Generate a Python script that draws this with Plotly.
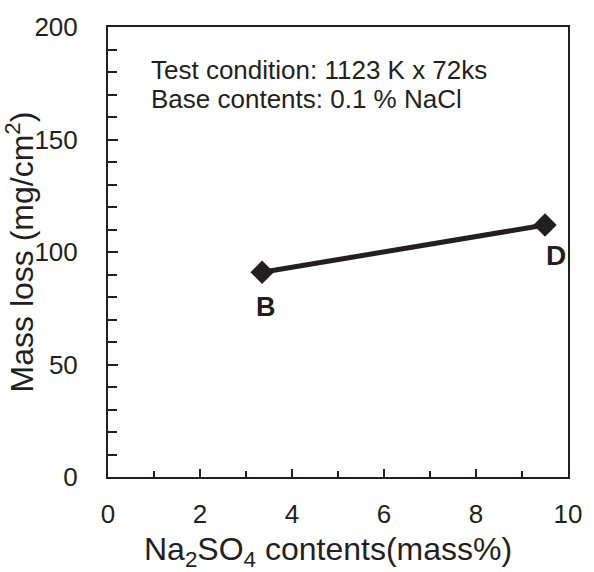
import plotly.graph_objects as go

na2so4 = [3.35, 9.5]
mass_loss = [91, 112]
point_labels = ["B", "D"]
x_ticks = [0, 2, 4, 6, 8, 10]
y_ticks = [0, 50, 100, 150, 200]

ink = "#231f20"
font_family = "Arial, Liberation Sans, Helvetica, sans-serif"

fig = go.Figure()
fig.add_trace(go.Scatter(
    x=na2so4, y=mass_loss, mode="lines+markers",
    line=dict(color=ink, width=5),
    marker=dict(symbol="diamond", size=18, color=ink),
    showlegend=False, hoverinfo="skip",
))

fig.add_annotation(x=na2so4[0], y=mass_loss[0], text="<b>%s</b>" % point_labels[0],
                   showarrow=False, yshift=-35, xshift=4,
                   font=dict(size=27, color=ink, family=font_family))
fig.add_annotation(x=na2so4[1], y=mass_loss[1], text="<b>%s</b>" % point_labels[1],
                   showarrow=False, yshift=-30, xshift=11,
                   font=dict(size=28, color=ink, family=font_family))

fig.add_annotation(xref="paper", yref="paper", x=0.09, y=0.905, xanchor="left", yanchor="middle",
                   text="Test condition: 1123 K x 72ks", showarrow=False,
                   font=dict(size=26, color=ink, family=font_family))
fig.add_annotation(xref="paper", yref="paper", x=0.09, y=0.839, xanchor="left", yanchor="middle",
                   text="Base contents: 0.1 % NaCl", showarrow=False,
                   font=dict(size=26, color=ink, family=font_family))

# x-axis title placed as an annotation for precise vertical position
fig.add_annotation(xref="paper", yref="paper", x=0.4775, y=0, xanchor="center", yanchor="middle",
                   yshift=-74, showarrow=False,
                   text="Na<sub>2</sub>SO<sub>4</sub> contents(mass%)",
                   font=dict(size=32, color=ink, family=font_family))

fig.update_layout(
    width=594, height=572,
    margin=dict(l=108, r=19, t=22, b=95),
    paper_bgcolor="white", plot_bgcolor="white",
    font=dict(family=font_family, color=ink, size=26),
)
fig.update_xaxes(
    range=[0, 10], tickvals=x_ticks, ticktext=[str(v) for v in x_ticks],
    showline=True, linecolor=ink, linewidth=2, mirror=True,
    ticks="inside", ticklen=8, tickwidth=2, tickcolor=ink,
    minor=dict(dtick=1, ticks="inside", ticklen=6, tickwidth=2, tickcolor=ink),
    showgrid=False, zeroline=False,
    ticklabelstandoff=13,
    tickfont=dict(size=26),
)
fig.update_yaxes(
    range=[0, 200], tickvals=y_ticks, ticktext=[str(v) for v in y_ticks],
    showline=True, linecolor=ink, linewidth=2, mirror=True,
    ticks="inside", ticklen=10, tickwidth=2, tickcolor=ink,
    minor=dict(dtick=10, ticks="inside", ticklen=9, tickwidth=2, tickcolor=ink),
    showgrid=False, zeroline=False,
    ticklabelstandoff=23,
    title=dict(text="Mass loss (mg/cm<sup>2</sup>)", font=dict(size=32), standoff=0),
    tickfont=dict(size=26),
)

fig.write_html("out.html")
